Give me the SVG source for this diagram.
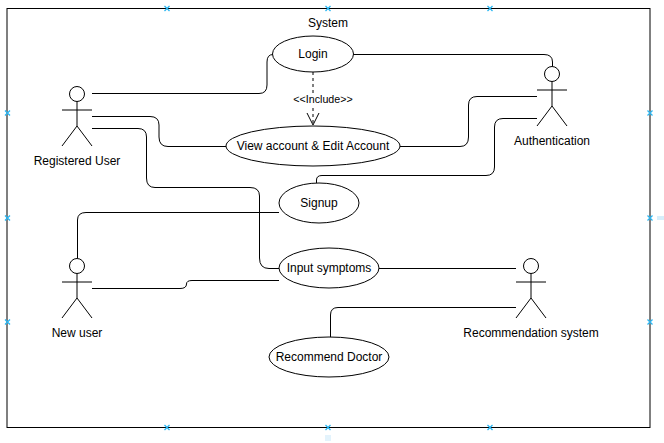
<svg xmlns="http://www.w3.org/2000/svg" width="664" height="443" viewBox="0 0 664 443">
<style>
text{font-family:"Liberation Sans",Arial,sans-serif;font-size:12px;fill:#000;text-anchor:middle}
.c{fill:none;stroke:#000;stroke-width:1}
.e{fill:#fff;stroke:#000;stroke-width:1}
.f{fill:none;stroke:#000;stroke-width:1}
.h{fill:none;stroke:#29b6f2;stroke-width:1.300}
</style>
<defs>
<g id="handle"><path class="h" d="M-2.500-2.500L2.500 2.500M-2.500 2.500L2.500-2.500"/></g>
<g id="actor">
<circle class="e" cx="0" cy="0" r="7.500"/>
<path class="f" d="M0 7.500V32M-15 16H15M-15 52L0 32L15 52"/>
</g>
</defs>
<rect width="664" height="443" fill="#fff"/>
<g id="system">
<rect class="f" x="7" y="8.500" width="643" height="419"/>
<text x="328" y="27">System</text>
</g>
<g id="connectors">
<path class="c" d="M92 93.500H259Q267 93.500 267 85V62Q267 54.500 273 54.500"/>
<path class="c" d="M92 116.500H150Q159 116.500 159 125V137Q159 146.500 168 146.500H226"/>
<path class="c" d="M92 128.500H138Q146.500 128.500 146.500 137V178Q146.500 187.500 155 187.500H250Q259.500 187.500 259.500 196V258Q259.500 268.500 269 268.500H279"/>
<path class="c" d="M353 54.500H544Q552.500 54.500 552.500 62V66"/>
<path class="c" d="M400 146.500H460Q468.500 146.500 468.500 137V105Q468.500 96.500 477 96.500H537"/>
<path class="c" d="M316.500 183V180Q316.500 175.500 322 175.500H486Q494.500 175.500 494.500 167V127Q494.500 118.500 503 118.500H537"/>
<path class="c" d="M77.500 258V220Q77.500 212.500 86 212.500H279"/>
<path class="c" d="M92 288.500H180Q186.500 288.500 186.500 284Q186.500 280.500 192 280.500H279"/>
<path class="c" d="M379 268.500H516"/>
<path class="c" d="M330.500 337V315Q330.500 307.500 338 307.500H516"/>
<path class="c" stroke-dasharray="3 3" d="M313 72V125"/>
<path class="c" d="M307 113L313 125L319 113"/>
<rect x="292" y="93" width="62" height="12" fill="#fff"/>
<text x="323" y="103" style="font-size:10.700px">&lt;&lt;Include&gt;&gt;</text>
</g>
<g id="login"><ellipse class="e" cx="313" cy="54" rx="40.500" ry="18"/><text x="313" y="58">Login</text></g>
<g id="view-account"><ellipse class="e" cx="313" cy="146" rx="87" ry="20"/><text x="313" y="150">View account &amp; Edit Account</text></g>
<g id="signup"><ellipse class="e" cx="319" cy="203" rx="40" ry="20"/><text x="319" y="207">Signup</text></g>
<g id="input-symptoms"><ellipse class="e" cx="329" cy="268" rx="50" ry="20"/><text x="329" y="272">Input symptoms</text></g>
<g id="recommend-doctor"><ellipse class="e" cx="329" cy="357" rx="60" ry="20"/><text x="329" y="361">Recommend Doctor</text></g>
<g id="registered-user"><use href="#actor" x="77" y="94"/><text x="77" y="165">Registered User</text></g>
<g id="authentication"><use href="#actor" x="552" y="74"/><text x="552" y="145">Authentication</text></g>
<g id="new-user"><use href="#actor" x="77" y="266"/><text x="77" y="337">New user</text></g>
<g id="recommendation-system"><use href="#actor" x="531" y="266"/><text x="531" y="337">Recommendation system</text></g>
<g id="handles">
<use href="#handle" x="167" y="8.500"/><use href="#handle" x="328" y="8.500"/><use href="#handle" x="490" y="8.500"/>
<use href="#handle" x="167" y="427.500"/><use href="#handle" x="328" y="427.500"/><use href="#handle" x="490" y="427.500"/>
<use href="#handle" x="7.500" y="113"/><use href="#handle" x="7.500" y="218"/><use href="#handle" x="7.500" y="322"/>
<use href="#handle" x="650" y="113"/><use href="#handle" x="650" y="218"/><use href="#handle" x="650" y="322"/>
<rect x="657" y="216" width="7" height="4" fill="#d6eefb"/>
<rect x="325" y="435" width="6" height="6" fill="#e3f3fc"/>
</g>
</svg>
